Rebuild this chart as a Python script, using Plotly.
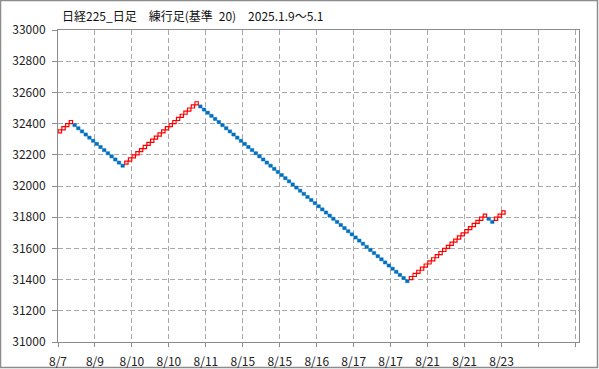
import plotly.graph_objects as go

# ---- data ----
box_size = 20
first_open = 32340
brick_close = [
    32360, 32380, 32400, 32420,
    32380, 32360, 32340, 32320, 32300, 32280, 32260, 32240, 32220, 32200, 32180, 32160, 32140, 32120,
    32160, 32180, 32200, 32220, 32240, 32260, 32280, 32300, 32320, 32340, 32360, 32380, 32400, 32420,
    32440, 32460, 32480, 32500, 32520, 32540,
    32500, 32480, 32460, 32440, 32420, 32400, 32380, 32360, 32340, 32320, 32300, 32280, 32260, 32240,
    32220, 32200, 32180, 32160, 32140, 32120, 32100, 32080, 32060, 32040, 32020, 32000, 31980, 31960,
    31940, 31920, 31900, 31880, 31860, 31840, 31820, 31800, 31780, 31760, 31740, 31720, 31700, 31680,
    31660, 31640, 31620, 31600, 31580, 31560, 31540, 31520, 31500, 31480, 31460, 31440, 31420, 31400,
    31380,
    31420, 31440, 31460, 31480, 31500, 31520, 31540, 31560, 31580, 31600, 31620, 31640, 31660, 31680,
    31700, 31720, 31740, 31760, 31780, 31800, 31820,
    31780, 31760,
    31800, 31820, 31840,
]
x_tick_labels = ["8/7", "8/9", "8/10", "8/10", "8/11", "8/15", "8/15", "8/16",
                 "8/17", "8/17", "8/21", "8/21", "8/23", "", ""]
y_ticks = [31000, 31200, 31400, 31600, 31800, 32000, 32200, 32400, 32600, 32800, 33000]
title_parts = ["日経225_日足", "練行足(基準\u200220)", "2025.1.9～5.1"]

# ---- build bricks ----
up_x, up_base, dn_x, dn_base = [], [], [], []
prev = first_open
for i, c in enumerate(brick_close):
    if c > prev:
        up_x.append(i + 0.5)
        up_base.append(c - box_size)
    else:
        dn_x.append(i + 0.5)
        dn_base.append(c)
    prev = c

FONT = "Noto Sans CJK JP"
GRID = "#a8a8a8"
AXIS = "#8c8c8c"

fig = go.Figure()
fig.add_trace(go.Bar(x=dn_x, y=[box_size] * len(dn_x), base=dn_base, width=0.95,
                     marker=dict(color="#0070C0", line=dict(color="#0070C0", width=0.5)),
                     hoverinfo="skip", showlegend=False))
fig.add_trace(go.Bar(x=up_x, y=[box_size] * len(up_x), base=up_base, width=0.9,
                     marker=dict(color="white", line=dict(color="#FF0000", width=1.2)),
                     hoverinfo="skip", showlegend=False))

ML, MR, MT, MB = 58, 20, 30, 27
W, H = 599, 369
pw = W - ML - MR
ph = H - MT - MB
n_slots = 140
x_max = n_slots * pw / (pw - 3.5)

fig.update_layout(
    width=W, height=H,
    margin=dict(l=ML, r=MR, t=MT, b=MB, autoexpand=False),
    paper_bgcolor="white", plot_bgcolor="white",
    barmode="overlay",
    font=dict(family=FONT, size=12, color="#222222"),
    title=dict(text="\u2002\u2002".join(title_parts), x=62 / W, xref="container", xanchor="left",
               y=1 - 17 / H, yref="container", yanchor="middle",
               font=dict(family=FONT, size=12, color="#111111"), automargin=False),
    xaxis=dict(range=[0, x_max], tickmode="array",
               tickvals=list(range(0, n_slots + 1, 10)), ticktext=x_tick_labels,
               showgrid=True, gridcolor=GRID, griddash="5px,3px", gridwidth=1,
               showline=True, linecolor=AXIS, linewidth=1, mirror=True,
               ticks="outside", ticklen=4, tickcolor=AXIS, zeroline=False,
               ticklabelstandoff=5, automargin=False, fixedrange=True),
    yaxis=dict(range=[31000, 33000], tickmode="array", tickvals=y_ticks,
               ticktext=[str(v) for v in y_ticks],
               showgrid=True, gridcolor=GRID, griddash="5px,3px", gridwidth=1,
               showline=True, linecolor=AXIS, linewidth=1, mirror=True,
               ticks="outside", ticklen=5, tickcolor=AXIS, zeroline=False,
               ticklabelstandoff=4, automargin=False, fixedrange=True),
)

# outer frame of the whole chart
fig.add_shape(type="rect", xref="paper", yref="paper",
              x0=-(ML - 0.5) / pw, x1=1 + (MR - 1.5) / pw,
              y0=-(MB - 1.5) / ph, y1=1 + (MT - 0.5) / ph,
              line=dict(color="#8c8c8c", width=1.5), layer="below")

fig.write_html("out.html")
